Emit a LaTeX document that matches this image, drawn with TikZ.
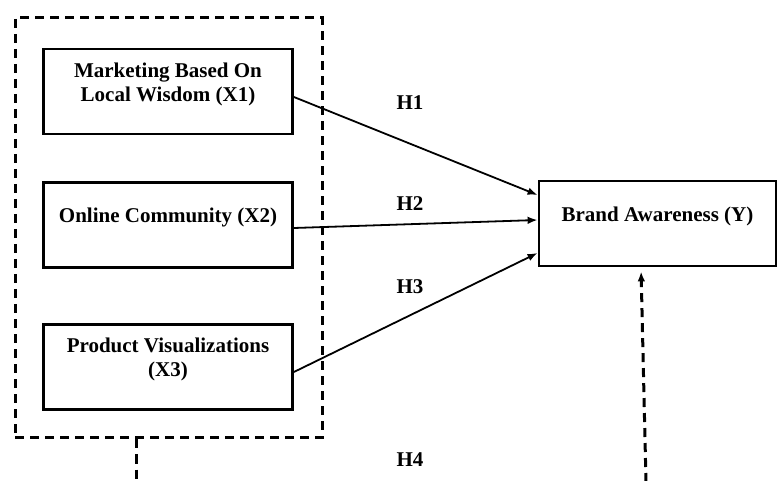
\documentclass[tikz,border=0pt]{standalone}
\usepackage{fontspec}
\setmainfont{Liberation Serif}
\usetikzlibrary{arrows.meta,calc}
\tikzset{
  font=\bfseries\fontsize{10.5}{12.2}\selectfont,
  >={Latex[length=5pt,width=3.8pt]},
  var/.style={draw=black, line width=1.4pt, minimum width=124.5pt, minimum height=42.5pt, align=center, text depth=9.5pt, inner sep=0pt},
  grp/.style={draw=black, line width=1.5pt, dash pattern=on 4.5pt off 3pt, minimum width=153.5pt, minimum height=210pt, inner sep=0pt},
  hyp/.style={draw=black, line width=0.9pt, ->},
  dashlink/.style={draw=black, line width=1.5pt, dash pattern=on 4.5pt off 3pt},
  lab/.style={inner sep=0pt},
}
\begin{document}
\begin{tikzpicture}[x=0.5pt,y=-0.5pt]
\useasboundingbox (0,0) rectangle (778,481);
% group of independent variables
\node[grp] (grp) at (168.5,228) {};
\node[var] (x1) at (168,91.5) {Marketing Based On\\Local Wisdom (X1)};
\node[var] (x2) at (168,225) {Online Community (X2)};
\node[var] (x3) at (168,367) {Product Visualizations\\(X3)};
% dependent variable
\node[var, minimum width=118.5pt] (brand) at (657.5,223.5) {Brand Awareness (Y)};
% hypotheses
\draw[hyp] ([yshift=-2.75pt]x1.east) -- ([yshift=14.25pt]brand.west);
\draw[hyp] ([yshift=-1.5pt]x2.east) -- ([yshift=1.75pt]brand.west);
\draw[hyp] ([yshift=-2.5pt]x3.east) -- ([yshift=-14.75pt]brand.west);
\node[lab] (h1) at (410,103) {H1};
\node[lab] (h2) at (410,204) {H2};
\node[lab] (h3) at (410,287) {H3};
\node[lab] (h4) at (410,460) {H4};
% simultaneous path, cut at bottom
\coordinate (grpfoot) at (136,482);
\coordinate (brfoot) at (646,482);
\draw[dashlink] (grp.south -| grpfoot) -- (grpfoot);
\draw[dashlink, ->, shorten >=2pt] (brfoot) -- ([xshift=-8.25pt]brand.south);
\end{tikzpicture}
\end{document}
